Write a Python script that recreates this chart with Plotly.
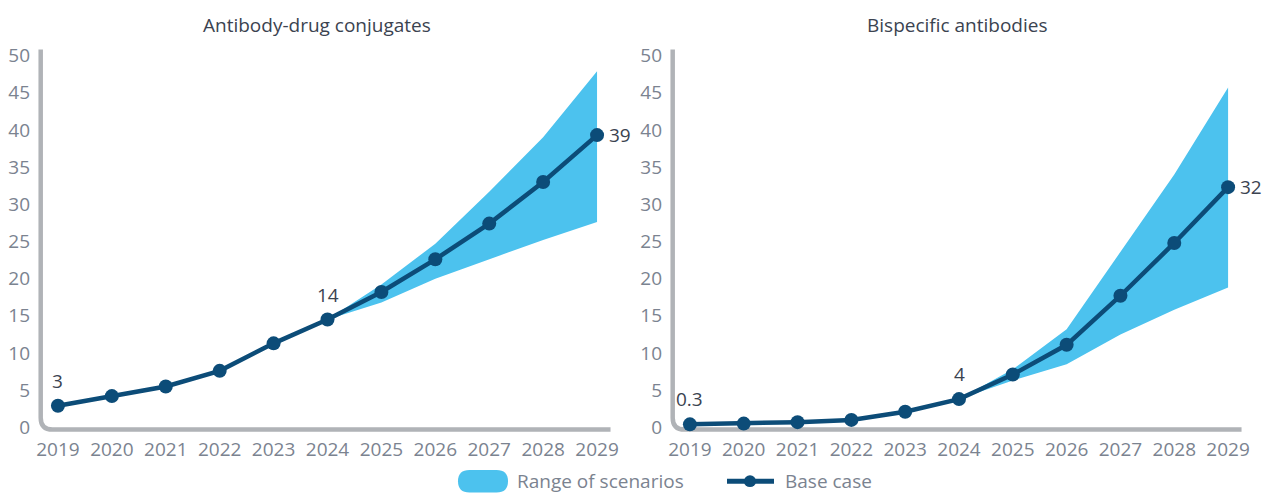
import plotly.graph_objects as go

W, H = 1270, 497

years = [2019, 2020, 2021, 2022, 2023, 2024, 2025, 2026, 2027, 2028, 2029]

adc_base = [2.9, 4.2, 5.5, 7.6, 11.3, 14.5, 18.2, 22.6, 27.4, 33.0, 39.3]
band_years = [2024, 2025, 2026, 2027, 2028, 2029]
adc_low = [14.5, 16.8, 20.0, 22.6, 25.2, 27.6]
adc_high = [14.5, 19.2, 24.7, 31.7, 39.0, 47.9]

bsa_base = [0.4, 0.5, 0.7, 1.0, 2.1, 3.8, 7.1, 11.1, 17.7, 24.8, 32.3]
bsa_low = [3.8, 6.3, 8.5, 12.5, 15.8, 18.8]
bsa_high = [3.8, 7.8, 13.2, 23.6, 34.0, 45.7]

titles = ["Antibody-drug conjugates", "Bispecific antibodies"]
labels_adc = {2019: "3", 2024: "14", 2029: "39"}
labels_bsa = {2019: "0.3", 2024: "4", 2029: "32"}

y_ticks = [0, 5, 10, 15, 20, 25, 30, 35, 40, 45, 50]

LINE = "#0c4c78"
BAND = "#4cc2ee"
AXIS = "#b0b3b7"
TICK = "#7b8390"
TEXT = "#3b4350"
FONT = "Open Sans"
FS = 19

fig = go.Figure()

panels = [
    (adc_base, adc_low, adc_high, labels_adc, "x", "y"),
    (bsa_base, bsa_low, bsa_high, labels_bsa, "x2", "y2"),
]

for base, low, high, labs, xa, ya in panels:
    fig.add_trace(go.Scatter(x=band_years, y=low, mode="lines", line=dict(width=0, color=BAND),
                             showlegend=False, hoverinfo="skip", xaxis=xa, yaxis=ya))
    fig.add_trace(go.Scatter(x=band_years, y=high, mode="lines", line=dict(width=0, color=BAND),
                             fill="tonexty", fillcolor=BAND, showlegend=False,
                             hoverinfo="skip", xaxis=xa, yaxis=ya))
    fig.add_trace(go.Scatter(x=years, y=base, mode="lines+markers",
                             line=dict(width=4.5, color=LINE),
                             marker=dict(size=14, color=LINE),
                             showlegend=False, xaxis=xa, yaxis=ya))
    for yr, txt in labs.items():
        v = base[years.index(yr)]
        if yr == 2029:
            fig.add_annotation(x=yr, y=v, xref=xa, yref=ya, text=txt, showarrow=False,
                               xanchor="left", yanchor="middle", xshift=10,
                               font=dict(family=FONT, size=FS, color=TEXT))
        else:
            fig.add_annotation(x=yr, y=v, xref=xa, yref=ya, text=txt, showarrow=False,
                               xanchor="center", yanchor="bottom", yshift=10,
                               font=dict(family=FONT, size=FS, color=TEXT))

# axes geometry
yrange = [-1.2, 51]
ydom = [(H - 439.1) / H, (H - 43.0) / H]
xrange = [2018.5, 2029.5]
xdoms = [[31 / W, 624 / W], [663 / W, 1255 / W]]

axcommon = dict(showgrid=False, zeroline=False, showline=False, ticks="",
                tickfont=dict(family=FONT, size=FS, color=TICK), fixedrange=True)
fig.update_layout(
    xaxis=dict(domain=xdoms[0], range=xrange, tickvals=years, anchor="y", **axcommon),
    yaxis=dict(domain=ydom, range=yrange, tickvals=y_ticks, anchor="x", **axcommon),
    xaxis2=dict(domain=xdoms[1], range=xrange, tickvals=years, anchor="y2", **axcommon),
    yaxis2=dict(domain=ydom, range=yrange, tickvals=y_ticks, anchor="x2", **axcommon),
)

# L-shaped axis lines with rounded corner
x0, ytop, ybot, xend = 2018.68, 50.8, -0.3, 2029.25
rx, ry = 0.22, 1.6
path = (f"M {x0},{ytop} L {x0},{ybot + ry} Q {x0},{ybot} {x0 + rx},{ybot} L {xend},{ybot}")
for xa, ya in [("x", "y"), ("x2", "y2")]:
    fig.add_shape(type="path", path=path, xref=xa, yref=ya,
                  line=dict(color=AXIS, width=4.5), layer="below")

# titles
for t, cx in zip(titles, [317, 957]):
    fig.add_annotation(x=cx / W, y=1 - 19 / H, xref="paper", yref="paper", text=t,
                       showarrow=False, xanchor="center", yanchor="middle",
                       font=dict(family=FONT, size=FS, color=TEXT))

# legend (drawn manually)
def px(xp):
    return xp / W

def py(yp):
    return 1 - yp / H

ly = 485
# pill swatch
x1p, x2p, h = 458, 508, 23
r = h / 2
pill = (f"M {px(x1p + r)},{py(ly - r)} L {px(x2p - r)},{py(ly - r)} "
        f"Q {px(x2p)},{py(ly - r)} {px(x2p)},{py(ly)} "
        f"Q {px(x2p)},{py(ly + r)} {px(x2p - r)},{py(ly + r)} "
        f"L {px(x1p + r)},{py(ly + r)} "
        f"Q {px(x1p)},{py(ly + r)} {px(x1p)},{py(ly)} "
        f"Q {px(x1p)},{py(ly - r)} {px(x1p + r)},{py(ly - r)} Z")
fig.add_shape(type="path", path=pill, xref="paper", yref="paper",
              fillcolor=BAND, line=dict(width=0))
fig.add_annotation(x=px(515), y=py(ly), xref="paper", yref="paper", text="Range of scenarios",
                   showarrow=False, xanchor="left", yanchor="middle",
                   font=dict(family=FONT, size=FS, color=TICK))
fig.add_shape(type="line", x0=px(727), x1=px(774), y0=py(ly), y1=py(ly), xref="paper",
              yref="paper", line=dict(color=LINE, width=5))
fig.add_shape(type="circle", x0=px(744), x1=px(756), y0=py(ly - 6), y1=py(ly + 6),
              xref="paper", yref="paper", fillcolor=LINE, line=dict(width=0))
fig.add_annotation(x=px(783), y=py(ly), xref="paper", yref="paper", text="Base case",
                   showarrow=False, xanchor="left", yanchor="middle",
                   font=dict(family=FONT, size=FS, color=TICK))

fig.update_layout(width=W, height=H, margin=dict(l=0, r=0, t=0, b=0),
                  plot_bgcolor="white", paper_bgcolor="white", showlegend=False,
                  font=dict(family=FONT))

fig.write_html("out.html", config={"displayModeBar": False},
               post_script="document.body.style.margin='0';document.body.style.padding='0';")
